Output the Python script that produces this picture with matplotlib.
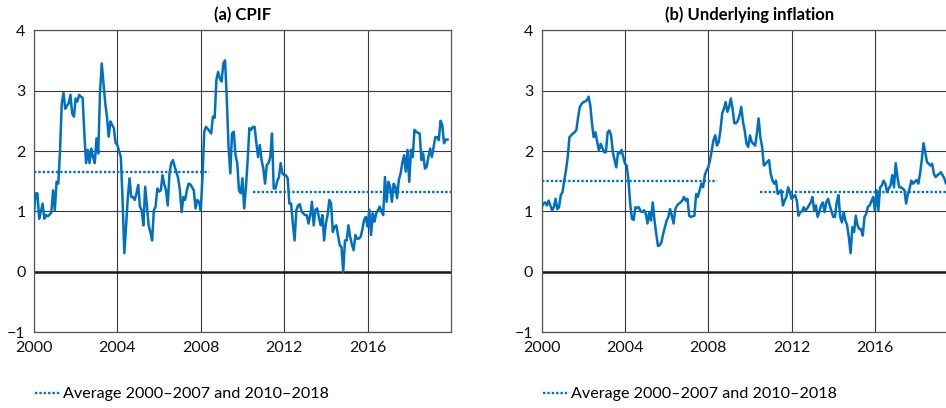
import numpy as np
import matplotlib
matplotlib.use('Agg')
import matplotlib.pyplot as plt

plt.rcParams['font.family'] = ['Lato', 'DejaVu Sans']

# Monthly inflation, per cent, starting January 2000
cpif = [
    0.97, 1.30, 1.30, 0.88, 1.00, 1.13, 0.88, 0.94, 0.92, 0.95, 0.98, 1.35,   # 2000
    1.02, 1.49, 1.46, 2.00, 2.79, 2.96, 2.70, 2.75, 2.79, 2.93, 2.62, 2.57,   # 2001
    2.87, 2.82, 2.93, 2.90, 2.88, 2.29, 1.80, 2.02, 1.80, 2.04, 1.90, 1.80,   # 2002
    2.21, 1.96, 2.96, 3.45, 3.12, 2.80, 2.57, 2.24, 2.49, 2.43, 2.38, 2.13,   # 2003
    2.10, 2.00, 1.90, 1.19, 0.31, 0.75, 1.22, 1.55, 1.24, 1.24, 1.19, 1.30,   # 2004
    1.44, 1.08, 1.02, 0.77, 1.41, 1.10, 0.77, 0.66, 0.52, 1.02, 1.08, 1.38,   # 2005
    1.33, 1.35, 1.60, 1.45, 1.35, 1.10, 1.63, 1.80, 1.85, 1.74, 1.65, 1.55,   # 2006
    1.35, 0.99, 1.24, 1.19, 1.35, 1.46, 1.45, 1.40, 1.35, 1.05, 1.19, 1.16,   # 2007
    1.02, 1.57, 2.32, 2.40, 2.37, 2.33, 2.29, 2.57, 2.55, 3.18, 3.31, 3.20,   # 2008
    3.15, 3.45, 3.50, 2.85, 2.07, 1.63, 2.29, 2.32, 1.93, 1.80, 1.35, 1.30,   # 2009
    1.55, 1.05, 1.40, 1.85, 2.38, 2.35, 2.40, 2.40, 2.13, 1.90, 2.10, 1.85,   # 2010
    1.71, 1.46, 1.77, 1.80, 1.90, 2.29, 1.38, 1.38, 1.50, 1.57, 1.80, 1.63,   # 2011
    1.60, 1.60, 1.55, 1.13, 1.13, 0.80, 0.52, 1.02, 1.10, 1.12, 1.00, 0.97,   # 2012
    0.94, 0.94, 0.80, 0.94, 1.16, 0.77, 1.03, 1.05, 0.90, 0.77, 0.94, 0.52,   # 2013
    0.80, 0.94, 1.19, 1.13, 0.66, 0.75, 0.77, 0.60, 0.44, 0.41, 0.00, 0.52,   # 2014
    0.52, 0.77, 0.58, 0.45, 0.36, 0.61, 0.55, 0.55, 0.58, 0.70, 0.86, 0.91,   # 2015
    0.75, 1.03, 0.61, 0.97, 0.83, 0.97, 1.02, 1.08, 1.00, 0.94, 1.57, 1.16,   # 2016
    1.49, 1.41, 1.16, 1.46, 1.41, 1.22, 1.52, 1.63, 1.80, 1.93, 1.66, 2.02,   # 2017
    1.49, 2.02, 1.90, 2.35, 2.32, 2.30, 2.29, 1.85, 1.96, 1.71, 1.74, 1.90,   # 2018
    2.04, 1.90, 2.07, 2.23, 2.23, 2.18, 2.50, 2.43, 2.13, 2.19, 2.19,         # 2019
]

underlying = [
    1.07, 1.13, 1.15, 1.10, 1.18, 1.10, 1.02, 1.07, 1.21, 1.04, 1.07, 1.27,   # 2000
    1.32, 1.51, 1.68, 1.90, 2.23, 2.26, 2.29, 2.31, 2.35, 2.56, 2.73, 2.78,   # 2001
    2.81, 2.82, 2.84, 2.90, 2.76, 2.45, 2.23, 2.31, 2.15, 2.01, 2.12, 2.05,   # 2002
    1.98, 1.98, 2.31, 2.34, 2.26, 1.98, 1.85, 1.73, 1.98, 1.96, 2.02, 1.90,   # 2003
    1.79, 1.76, 1.51, 1.13, 0.88, 0.86, 1.07, 1.06, 1.07, 1.00, 0.99, 1.02,   # 2004
    0.96, 0.80, 0.99, 0.85, 1.15, 0.85, 0.63, 0.43, 0.44, 0.49, 0.63, 0.74,   # 2005
    0.85, 0.91, 1.04, 0.93, 0.80, 1.04, 1.10, 1.13, 1.15, 1.18, 1.24, 1.18,   # 2006
    1.21, 0.93, 0.91, 0.92, 0.93, 1.29, 1.24, 1.35, 1.46, 1.40, 1.60, 1.68,   # 2007
    1.73, 1.85, 2.01, 2.18, 2.26, 2.09, 2.15, 2.34, 2.62, 2.70, 2.81, 2.65,   # 2008
    2.73, 2.87, 2.70, 2.46, 2.46, 2.50, 2.59, 2.73, 2.48, 2.34, 2.12, 2.07,   # 2009
    2.26, 2.15, 2.12, 2.09, 2.29, 2.54, 2.23, 2.07, 1.76, 1.79, 1.82, 1.85,   # 2010
    1.62, 1.51, 1.46, 1.51, 1.29, 1.32, 1.35, 1.10, 1.18, 1.24, 1.40, 1.32,   # 2011
    1.21, 1.24, 1.27, 1.18, 0.93, 0.99, 1.00, 1.07, 1.02, 1.05, 1.10, 1.15,   # 2012
    1.24, 1.02, 1.10, 0.91, 1.00, 1.10, 1.15, 0.99, 1.15, 1.21, 1.10, 1.00,   # 2013
    0.91, 0.91, 1.15, 1.27, 0.91, 0.82, 0.99, 0.85, 0.77, 0.57, 0.31, 0.74,   # 2014
    0.66, 0.93, 0.77, 0.71, 0.71, 0.60, 0.91, 0.96, 1.08, 1.10, 1.17, 1.24,   # 2015
    1.02, 1.35, 1.02, 1.40, 1.43, 1.51, 1.46, 1.32, 1.38, 1.43, 1.60, 1.40,   # 2016
    1.80, 1.57, 1.40, 1.40, 1.38, 1.35, 1.13, 1.29, 1.38, 1.51, 1.46, 1.49,   # 2017
    1.52, 1.46, 1.62, 1.85, 2.13, 1.98, 1.82, 1.79, 1.76, 1.79, 1.62, 1.57,   # 2018
    1.60, 1.62, 1.65, 1.60, 1.55, 1.46, 1.45,                                 # 2019
]

# Averages 2000-2007 and 2010-2018 (value, start, end)
cpif_avg = [(1.66, 2000.0, 2008.4), (1.33, 2010.5, 2020.0)]
underlying_avg = [(1.51, 2000.0, 2008.4), (1.32, 2010.5, 2020.0)]

titles = ['(a) CPIF', '(b) Underlying inflation']
year_ticks = [2000, 2004, 2008, 2012, 2016]
legend_label = 'Average 2000–2007 and 2010–2018'

blue = '#0070C0'
grid_col = '#3a3a3a'

fig = plt.figure(figsize=(9.46, 4.08), dpi=100)
ax1 = fig.add_axes([0.0359, 0.1855, 0.4408, 0.7405])
# right panel runs past the figure edge
ax2 = fig.add_axes([0.5726, 0.1855, 0.4403, 0.7405])

for ax, series, avgs, title in zip([ax1, ax2], [cpif, underlying],
                                   [cpif_avg, underlying_avg], titles):
    t = 2000 + np.arange(len(series)) / 12
    ax.plot(t, series, color=blue, lw=1.8, solid_joinstyle='round', zorder=3)
    for i, (val, x0, x1) in enumerate(avgs):
        ax.plot([x0, x1], [val, val], color=blue, lw=1.7,
                linestyle=(0, (1.0, 0.85)), zorder=3,
                label=legend_label if i == 0 else None)

    ax.axhline(0, color='#1a1a1a', lw=1.8, zorder=2)
    ax.set_xlim(2000, 2020)
    ax.set_ylim(-1, 4)
    ax.set_xticks(year_ticks)
    ax.set_yticks([-1, 0, 1, 2, 3, 4])
    ax.grid(True, color=grid_col, lw=0.8, zorder=1)
    ax.tick_params(length=0, labelsize=11.5, colors='#111111')
    ax.tick_params(axis='x', pad=6)
    ax.tick_params(axis='y', pad=6)
    for sp in ax.spines.values():
        sp.set_color('#555555')
        sp.set_linewidth(0.9)
    ax.set_title(title, fontsize=12, fontweight='bold', pad=7)
    ax.legend(loc='upper left', bbox_to_anchor=(-0.012, -0.16), frameon=False,
              fontsize=11.6, handlelength=1.5, handletextpad=0.2,
              borderaxespad=0)

fig.savefig('out.png', dpi=100)
